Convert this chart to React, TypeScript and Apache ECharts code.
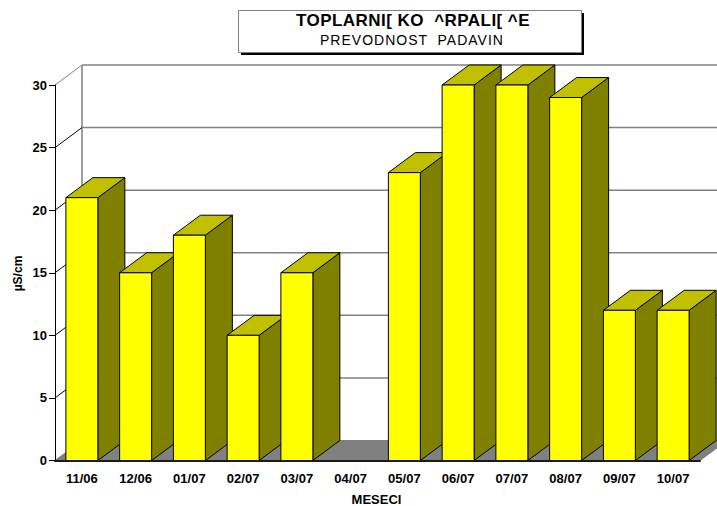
import React, { useEffect, useRef } from "react";
import * as echarts from "echarts";

const months = ["11/06", "12/06", "01/07", "02/07", "03/07", "04/07", "05/07", "06/07", "07/07", "08/07", "09/07", "10/07"];
const conductivity: (number | null)[] = [21, 15, 18, 10, 15, null, 23, 30, 30, 29, 12, 12];
const yTicks = [0, 5, 10, 15, 20, 25, 30];
const titleMain = "TOPLARNI[ KO  ^RPALI[ ^E";
const titleSub = "PREVODNOST  PADAVIN";
const yName = "µS/cm";
const xName = "MESECI";

const DX = 27;
const DY = -20;
const FONT = "Liberation Sans, Arial, sans-serif";
const SPACING: Record<string, string> = { [titleMain]: "0.45px", [titleSub]: "1px" };

export default function App() {
  const ref = useRef<HTMLDivElement>(null);
  useEffect(() => {
    const chart = echarts.init(ref.current!, undefined, { renderer: "svg" });
    const poly = (points: number[][], fill: string, stroke = "#000", lineWidth = 1) => ({
      type: "polygon",
      shape: { points },
      style: { fill, stroke, lineWidth },
    });
    chart.setOption({
      animation: false,
      backgroundColor: "#fff",
      grid: { left: 55, right: 17, top: 85, bottom: 45.5, containLabel: false },
      xAxis: {
        type: "category",
        data: months,
        z: 5,
        axisLine: { lineStyle: { color: "#1a1a1a", width: 2 } },
        axisTick: { length: 6, lineStyle: { color: "#000" } },
        axisLabel: { color: "#000", fontFamily: FONT, fontWeight: "bold", fontSize: 13, margin: 11 },
        splitLine: { show: false },
      },
      yAxis: {
        type: "value",
        min: 0,
        max: 30,
        interval: 5,
        z: 5,
        axisLine: { show: true, lineStyle: { color: "#000" } },
        axisTick: { show: true, length: 6, lineStyle: { color: "#000" } },
        axisLabel: { color: "#000", fontFamily: FONT, fontWeight: "bold", fontSize: 13, margin: 8 },
        splitLine: { show: false },
      },
      series: [
        {
          type: "custom",
          name: "wall",
          z: 1,
          data: yTicks.map((v) => [0, v]),
          encode: { x: 0, y: 1 },
          renderItem: (params: any, api: any) => {
            const v = api.value(1);
            const band = api.size([1, 0])[0];
            const p = api.coord([0, v]);
            const left = p[0] - band / 2;
            const right = left + band * months.length;
            const children: any[] = [];
            if (v === 0) {
              children.push(poly([[left, p[1]], [left + DX, p[1] + DY], [right + DX, p[1] + DY], [right, p[1]]], "#808080", "#808080"));
              const top = api.coord([0, 30])[1];
              children.push({ type: "line", shape: { x1: left + DX, y1: p[1] + DY, x2: left + DX, y2: top + DY }, style: { stroke: "#808080", lineWidth: 1.5 } });
            } else {
              children.push({ type: "line", shape: { x1: left + DX, y1: p[1] + DY, x2: right + DX, y2: p[1] + DY }, style: { stroke: "#808080", lineWidth: 1.5 } });
              children.push({ type: "line", shape: { x1: left, y1: p[1], x2: left + DX, y2: p[1] + DY }, style: { stroke: v === 30 ? "#808080" : "#000", lineWidth: 1 } });
            }
            return { type: "group", children };
          },
        },
        {
          type: "custom",
          name: "bars",
          z: 2,
          data: conductivity.map((v, i) => [i, v]),
          encode: { x: 0, y: 1 },
          renderItem: (params: any, api: any) => {
            const v = api.value(1);
            if (v === null || isNaN(v)) return { type: "group", children: [] };
            const i = api.value(0);
            const band = api.size([1, 0])[0];
            const w = band * 0.595;
            const top = api.coord([i, v]);
            const base = api.coord([i, 0]);
            const x0 = top[0] - w / 2;
            const x1 = top[0] + w / 2;
            return {
              type: "group",
              children: [
                poly([[x1, top[1]], [x1 + DX, top[1] + DY], [x1 + DX, base[1] + DY], [x1, base[1]]], "#808000"),
                poly([[x0, top[1]], [x0 + DX, top[1] + DY], [x1 + DX, top[1] + DY], [x1, top[1]]], "#c0c000"),
                poly([[x0, top[1]], [x1, top[1]], [x1, base[1]], [x0, base[1]]], "#ffff00"),
              ],
            };
          },
        },
      ],
      graphic: [
        { type: "rect", shape: { x: 241, y: 13, width: 343, height: 42 }, style: { fill: "#000" }, z: 10 },
        { type: "rect", shape: { x: 238.5, y: 10.5, width: 343, height: 42 }, style: { fill: "#fff", stroke: "#808080", lineWidth: 1 }, z: 11 },
        { type: "text", x: 413, y: 20, style: { text: titleMain, font: `bold 17px ${FONT}`, fill: "#000", align: "center", verticalAlign: "middle" }, z: 12 },
        { type: "text", x: 412, y: 40, style: { text: titleSub, font: `14px ${FONT}`, fill: "#000", align: "center", verticalAlign: "middle" }, z: 12 },
        { type: "text", x: 18, y: 273.5, rotation: Math.PI / 2, style: { text: yName, font: `bold 12px ${FONT}`, fill: "#000", align: "center", verticalAlign: "middle" }, z: 12 },
        { type: "text", x: 376.5, y: 499, style: { text: xName, font: `bold 13px ${FONT}`, fill: "#000", align: "center", verticalAlign: "middle" }, z: 12 },
      ],
    });
    ref.current!.querySelectorAll("text").forEach((t) => {
      const s = SPACING[t.textContent || ""];
      if (s) t.setAttribute("letter-spacing", s);
    });
    return () => chart.dispose();
  }, []);
  return <div ref={ref} style={{ position: "fixed", left: 0, top: 0, width: 717, height: 506 }} />;
}
